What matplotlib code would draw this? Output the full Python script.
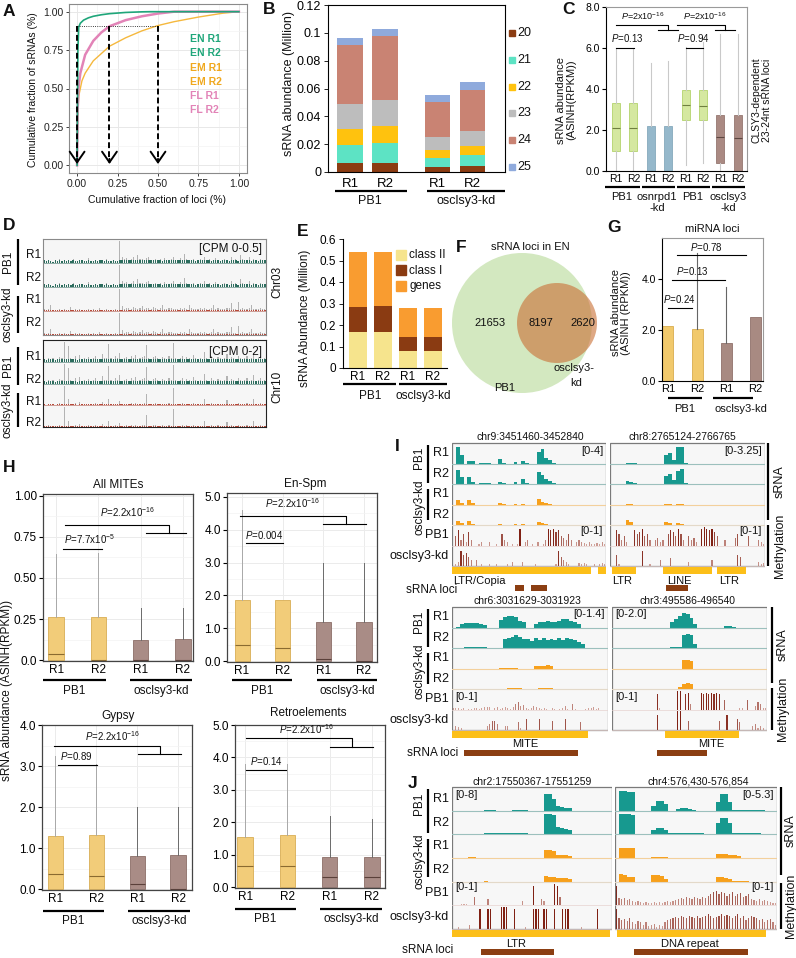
import numpy as np
import matplotlib
matplotlib.use('Agg')
import matplotlib.pyplot as plt
from matplotlib.lines import Line2D
from matplotlib.patches import Rectangle, Circle

plt.rcParams['font.family'] = ['Liberation Sans', 'DejaVu Sans']
plt.rcParams['mathtext.fontset'] = 'custom'
plt.rcParams['mathtext.rm'] = 'Liberation Sans'
plt.rcParams['mathtext.it'] = 'Liberation Sans:italic'
plt.rcParams['axes.linewidth'] = 0.8
plt.rcParams['text.color'] = '#111111'

# ---------------- DATA ----------------
# A: cumulative curves
A_EN_x = [0, 0.002, 0.005, 0.01, 0.02, 0.04, 0.07, 0.1, 0.15, 0.2, 0.3, 0.4, 0.45, 1.0]
A_EN_y = [0, 0.30, 0.75, 0.90, 0.925, 0.945, 0.96, 0.97, 0.98, 0.987, 0.995, 0.999, 1.0, 1.0]
A_EM_x = [0, 0.003, 0.01, 0.03, 0.05, 0.1, 0.2, 0.3, 0.4, 0.5, 0.6, 0.75, 0.9, 1.0]
A_EM_y = [0, 0.30, 0.45, 0.55, 0.60, 0.68, 0.775, 0.83, 0.875, 0.91, 0.935, 0.965, 0.99, 1.0]
A_FL_x = [0, 0.003, 0.01, 0.02, 0.05, 0.1, 0.15, 0.2, 0.3, 0.4, 0.5, 0.6, 1.0]
A_FL_y = [0, 0.35, 0.52, 0.60, 0.72, 0.81, 0.865, 0.905, 0.945, 0.97, 0.988, 1.0, 1.0]
A_arrows = [0.0, 0.2, 0.5]
A_legend = ['EN R1', 'EN R2', 'EM R1', 'EM R2', 'FL R1', 'FL R2']

# B: stacked sRNA sizes (Million)
B_reps = ['R1', 'R2', 'R1', 'R2']
B_sizes = ['20', '21', '22', '23', '24', '25']
B_20 = [0.0065, 0.0068, 0.0035, 0.0040]
B_21 = [0.0130, 0.0137, 0.0065, 0.0080]
B_22 = [0.0115, 0.0125, 0.0060, 0.0070]
B_23 = [0.0180, 0.0185, 0.0095, 0.0105]
B_24 = [0.0420, 0.0460, 0.0245, 0.0295]
B_25 = [0.0050, 0.0055, 0.0055, 0.0060]

# C: boxplots
C_groups = ['PB1', 'osnrpd1\n-kd', 'PB1', 'osclsy3\n-kd']
C_q1 = [1.0, 1.0, 0.0, 0.0, 2.5, 2.48, 0.4, 0.0]
C_med = [2.1, 2.12, 0.0, 0.0, 3.2, 3.18, 1.65, 1.6]
C_q3 = [3.3, 3.3, 2.2, 2.2, 3.95, 3.95, 2.75, 2.75]
C_lo = [0.0, 0.0, 0.0, 0.0, 0.27, 0.37, 0.0, 0.0]
C_hi = [6.0, 6.0, 5.27, 5.35, 6.05, 6.3, 6.7, 6.7]

# D: genome tracks (fraction of track height)
D3_pb1 = [.12,.08,.15,.1,.06,.13,.1,.2,.08,.12, .1,.14,.09,.18,.1,.07,.12,.16,.1,.09,
          .22,.1,.08,.13,.1,.15,.12,.09,.2,.1, .08,.12,.1,.11,1.0,.3,.18,.25,.15,.2,
          .28,.15,.35,.2,.18,.12,.22,.3,.15,.14, .2,.12,.18,.1,.25,.16,.12,.2,.3,.15,
          .12,.22,.15,.4,.18,.14,.12,.2,.1,.15, .18,.12,.3,.15,.2,.1,.12,.25,.15,.1,
          .12,.2,.15,.1,.3,.12,.18,.1,.35,.2, .15,.12,.3,.1,.18,.12,.1,.2,.15,.12]
D3_kd = [.1,.05,.08,.3,.05,.06,.04,.1,.05,.08, .06,.05,.2,.05,.08,.04,.1,.05,.06,.05,
         .08,.05,.1,.06,.05,.12,.05,.06,.08,.05, .06,.05,.08,.05,1.0,.25,.1,.15,.12,.1,
         .2,.15,.1,.12,.25,.1,.15,.12,.1,.2, .15,.1,.12,.3,.1,.08,.15,.12,.1,.08,
         .1,.12,.08,.15,.1,.3,.12,.1,.08,.1, .12,.1,.15,.08,.1,.12,.3,.1,.15,.08,
         .1,.08,.12,.15,.35,.1,.08,.4,.1,.12, .08,.1,.12,.3,.1,.08,.1,.12,.08,.1]
D10_pb1 = [.15,.1,.2,.12,.18,.1,.15,.25,.2,1.0, .15,.8,.2,.12,.3,.1,.35,.15,.2,.12,
           .25,.15,.2,.3,.15,.12,.4,.18,.2,.9, .2,.15,.3,.2,.45,.15,.2,.25,.15,.3,
           .2,.35,.15,.2,.25,.3,.85,.2,.15,.25, .3,.2,.15,.25,.2,.15,.3,.2,.95,.2,
           .15,.2,.3,.15,.25,.2,.15,.35,.2,.15, .2,.15,.5,.2,.15,.3,.2,.15,.25,.2,
           .15,.2,.4,.15,.25,.2,.15,.3,.2,.15, .2,.3,.15,.2,.45,.15,.2,.3,.15,.2]
D10_kd = [.05,.03,.08,.04,.06,.03,.05,.1,.04,1.0, .05,.3,.04,.06,.1,.03,.15,.05,.04,.06,
          .08,.04,.05,.1,.04,.05,.15,.04,.06,.3, .05,.04,.08,.05,.2,.04,.06,.08,.05,.1,
          .05,.12,.04,.06,.08,.1,.6,.05,.04,.08, .1,.05,.04,.08,.06,.04,.1,.05,.9,.05,
          .04,.06,.1,.04,.08,.06,.04,.12,.05,.04, .06,.04,.3,.05,.04,.1,.06,.04,.08,.05,
          .04,.06,.25,.04,.08,.05,.04,.1,.06,.04, .05,.1,.04,.06,.3,.04,.05,.12,.04,.05]

# E: stacked (Million)
E_classII = [0.168, 0.168, 0.078, 0.080]
E_classI = [0.117, 0.119, 0.064, 0.063]
E_genes = [0.255, 0.253, 0.135, 0.135]

# F: Venn counts
F_pb1_only, F_both, F_kd_only = 21653, 8197, 2620

# G: miRNA loci
G_vals = [2.15, 2.02, 1.5, 2.5]
G_hi = [2.15, 5.0, 3.7, 2.5]

# H: boxplots (q1 = 0 everywhere, lower whisker 0)
H1_q3 = [0.26, 0.26, 0.125, 0.13]; H1_med = [0.035, 0.0, 0.0, 0.0]; H1_hi = [0.645, 0.65, 0.315, 0.32]
H2_q3 = [1.85, 1.85, 1.2, 1.2];    H2_med = [0.5, 0.4, 0.05, 0.0];  H2_hi = [4.6, 1.85, 3.0, 3.0]
H3_q3 = [1.3, 1.32, 0.8, 0.82];    H3_med = [0.37, 0.32, 0.12, 0.0]; H3_hi = [3.25, 3.05, 2.0, 2.0]
H4_q3 = [1.55, 1.6, 0.92, 0.92];   H4_med = [0.65, 0.65, 0.3, 0.3]; H4_hi = [3.8, 3.8, 2.2, 2.1]

# I / J: sRNA coverage (fraction of track height)
s9_pb1_r1 = [0,.85,.45,0,.15,.12,0,.03,.02,.03, 0,0,.25,.05,0,0,.06,0,.12,.03, 0,0,.6,.75,.3,.2,.05,0,0,0, 0,0,0,0,0,0,0,0,0,0]
s9_pb1_r2 = [0,.75,.35,0,.35,.1,0,.03,.03,.03, .02,0,.1,.03,0,0,.08,0,.25,.03, 0,0,.65,.5,.25,.15,.05,0,0,0, 0,0,0,0,0,0,0,0,0,0]
s9_kd_r1 = [0,.25,.1,0,.25,.1,0,0,0,0, 0,0,.1,.03,0,0,.05,0,.05,0, 0,0,.3,.15,.08,.03,0,0,0,0, 0,0,0,0,0,0,0,0,0,0]
s9_kd_r2 = [0,.2,.08,0,.2,.05,0,0,0,0, 0,0,.05,0,0,0,.03,0,.03,0, 0,0,.15,.12,.05,.02,0,0,0,0, 0,0,0,0,0,0,0,0,0,0]
s8_pb1_r1 = [0,0,0,0,.05,.05,.02,0,0,0, 0,0,0,0,.45,.55,.2,.85,.9,.05, 0,0,0,0,0,0,0,0,0,0, 0,0,0,0,0,0,0,0,0,0]
s8_pb1_r2 = [0,0,0,0,.15,.1,.03,0,0,0, 0,0,0,0,.4,.55,.2,.7,.8,.05, 0,0,0,0,0,0,0,0,0,0, 0,0,0,0,0,0,0,0,0,0]
s8_kd_r1 = [0,0,0,0,.05,.03,0,0,0,0, 0,0,0,0,.05,.05,0,.05,.03,0, 0,0,0,0,0,0,0,0,0,0, 0,0,0,0,0,0,0,0,0,0]
s8_kd_r2 = [0,0,0,0,.25,.15,0,0,0,0, 0,0,0,0,.15,.1,0,.08,.05,0, 0,0,0,0,0,0,0,0,0,0, 0,0,0,0,0,0,0,0,0,0]
s6_pb1_r1 = [0,.05,.2,.22,.25,.25,.25,.2,.15,0, 0,0,.4,.55,.6,.6,.55,.35,.3,0, 0,.2,.3,.3,.35,.3,.3,.35,.45,.45, .35,.3,.2,0,0,0,0,0,0,0]
s6_pb1_r2 = [0,0,0,.05,.05,.05,.05,.05,.05,0, 0,0,0,.5,.55,.6,.7,.6,.5,.5, .35,.55,.45,.55,.45,.5,.45,.55,.45,.55, .5,.45,.3,.2,0,0,0,0,0,0]
s6_kd_r1 = [0,0,0,0,0,0,0,0,0,0, 0,0,.03,.03,.03,.03,.03,0,0,0, 0,.12,.15,.15,.2,.15,0,0,0,0, 0,0,0,0,0,0,0,0,0,0]
s6_kd_r2 = [0,0,0,0,0,0,0,0,0,0, 0,0,0,0,.04,.04,.04,.04,0,0, 0,0,.04,.04,.04,.04,0,0,0,0, 0,0,0,0,0,0,0,0,0,0]
s3_pb1_r1 = [0,0,0,0,0,0,0,0,0,0, 0,0,0,0,0,.3,.45,.6,.75,.7, .5,.2,0,0,0,0,0,0,0,.1, .1,.05,0,0,0,0,0,0,0,0]
s3_pb1_r2 = [0,0,0,0,0,0,0,0,0,0, 0,0,0,0,0,.05,.05,.05,.7,.75, .7,.2,0,0,0,0,0,0,0,0, 0,0,0,0,0,0,0,0,0,0]
s3_kd_r1 = [0,0,0,0,0,0,0,0,0,0, 0,0,0,0,0,0,0,0,.45,.45, .4,0,0,0,0,0,0,0,0,0, 0,0,0,0,0,0,0,0,0,0]
s3_kd_r2 = [0,0,0,0,0,0,0,0,0,0, 0,0,0,0,0,0,0,.1,.25,.3, .25,0,0,0,0,0,0,0,0,0, 0,0,0,0,0,0,0,0,0,0]
s2_pb1_r1 = [0,0,0,0,0,0,0,0,.03,.03, .03,0,0,0,0,.03,.03,.03,.03,0, 0,0,0,.75,.75,.55,.2,.15,.12,.1, 0,0,0,0,0,0,0,0,0,0]
s2_pb1_r2 = [0,0,0,0,0,0,0,0,.04,.04, .04,.04,.04,.04,.04,.04,.04,.04,.04,0, 0,0,0,.95,.95,.9,.35,.3,.25,.2, 0,0,0,0,0,0,0,0,0,0]
s2_kd_r1 = [0,0,0,0,.05,.05,0,0,0,0, 0,0,0,0,0,0,0,0,0,0, 0,0,0,.35,.35,.3,.15,.15,.15,.1, 0,0,0,0,0,0,0,0,0,0]
s2_kd_r2 = [0,0,0,0,0,0,0,0,.03,0, 0,0,0,0,0,0,0,0,0,0, 0,0,0,.25,.2,.2,.15,.15,.15,.12, 0,0,0,0,0,0,0,0,0,0]
s4_pb1_r1 = [0,.9,.9,.85,.85,0,0,0,0,.2, .45,.45,.3,0,0,.08,.1,.1,.08,.05, 0,0,0,0,0,.4,.75,.75,.4,.05, .05,.05,.05,.05,.05,.05,.03,0,0,0]
s4_pb1_r2 = [0,.95,.95,.95,.9,0,0,0,0,.2, .3,.3,.2,.05,.05,.05,.05,.05,.05,.05, .05,.05,0,0,0,.5,.75,.75,.5,.05, .05,.05,.05,.05,.05,.05,0,0,0,0]
s4_kd_r1 = [0,.45,.45,.45,.45,0,0,0,0,.05, .05,.05,.05,0,0,0,0,0,0,0, 0,0,0,0,0,.2,.2,.2,.15,.15, .1,0,0,0,0,0,0,0,0,0]
s4_kd_r2 = [0,.35,.3,.2,.2,0,0,0,0,.3, .3,.25,.1,0,0,0,0,0,0,0, 0,0,0,0,0,.2,.2,.15,.1,.05, .05,.05,.05,0,0,0,0,0,0,0]

# I / J: methylation levels (0-1)
m9_pb1 = [0,.5,.8,.3,.6,.2,.7,.3,0,0, .1,.2,0,0,.2,0,0,.1,0,.6, .3,.2,0,.1,0,.1,.9,0,.2,.3,
          0,.1,0,.2,0,.1,.3,.9,.8,.9, .7,.8,.5,.4,.3,.6,.3,0,.2,.3, .2,.15,.1,.2,.1,.1,.15,.1,.2,.1]
m9_kd = [0,.1,.2,.8,.6,.7,.5,.3,0,.3, 0,.1,0,0,.1,0,0,.1,0,0, 0,.1,0,.2,0,0,0,.2,0,0,
         0,0,.1,0,0,0,0,0,0,0, .1,.8,.5,.3,.2,.1,0,0,0,.15, .1,.15,.1,0,0,.1,0,.1,.15,.1]
m8_pb1 = [0,0,.8,.6,.3,.5,.2,0,0,.8, .6,.7,.9,.5,.6,.3,0,.3,.4,.2, .3,0,.6,.8,.7,.5,.9,.6,.3,0,
          .5,.3,.4,.2,0,.9,1.0,.9,.8,.9, .7,.5,0,0,.3,0,0,0,.4,.6, 0,0,0,.5,0,0,0,.3,.2,.1]
m8_kd = [0,0,.6,.1,0,0,0,0,0,0, 0,0,.8,0,0,.1,0,0,0,.3, 0,0,0,.4,0,0,0,0,0,0,
         .2,0,0,0,0,0,0,0,0,.3, 0,0,0,0,0,0,0,0,0,.6, .5,0,0,0,0,0,0,.2,.1,.15]
m6_pb1 = [.1,.08,.1,.05,.08,0,.05,.05,.08,.1, .05,.1,.12,.15,.12,0,.1,.15,.05,.1, .12,.1,.05,.15,.3,.4,.2,.25,.1,.05,
          .1,.2,.15,.1,.05,.1,.05,0,.1,.05, 0,.05,.1,.2,.05,0,.3,.05,0,0, 0,.05,.1,.1,.15,.05,.1,0,0,0]
m6_kd = [0,.2,.15,.1,0,0,0,0,0,0, 0,0,0,.2,.3,.5,.5,.3,0,0, .2,.2,0,0,0,.4,.1,0,.6,0,
         0,0,0,.6,0,0,0,0,.5,0, 0,0,0,.6,0,0,0,0,0,.4, 0,0,0,0,0,0,0,0,0,0]
m3_pb1 = [0,0,0,0,0,0,0,0,0,0, 0,0,0,0,0,0,0,.8,.1,0, 0,0,0,0,0,1.0,1.0,0,.8,.9,
          .3,0,0,0,.9,.8,.9,.8,.9,.8, .9,.8,0,.5,0,0,0,0,0,.1, .1,0,.5,0,0,.2,.4,.3,.1,.1]
m3_kd = [0,0,0,0,0,0,0,0,0,0, 0,0,0,0,0,0,0,.8,0,0, 0,0,0,0,0,1.0,1.0,0,0,.5,
         0,0,0,0,0,0,0,0,0,0, 0,.5,0,0,.8,0,0,0,.6,.4, 0,0,0,0,.2,.3,.1,.2,.1,0]
m2_pb1 = [0,0,0,.05,.05,.05,0,0,.4,0, 0,0,0,.3,0,0,0,0,0,0, 0,0,0,0,0,0,.2,0,0,0,
          .9,0,0,.3,.2,0,0,0,1.0,.9, .4,0,0,0,0,0,0,0,0,0, 0,0,0,0,0,0,0,0,0,0]
m2_kd = [0,0,.1,0,0,0,.2,0,0,0, .9,0,0,.9,.9,0,0,0,1.0,1.0, 1.0,0,0,.9,0,0,0,.1,0,0,
         .9,.9,.9,0,.9,.9,0,0,.9,0, 0,.9,.9,.9,0,0,0,0,.1,0, 0,0,0,0,.9,0,0,0,0,0]
m4_pb1 = [.9,.35,.3,.35,.25,.3,.2,.15,.2,.15, .1,.15,.1,.1,.15,.1,.15,.1,.15,.2, .15,.2,.25,.3,.35,.3,.4,.35,.3,.4,
          .35,.3,.4,.35,.45,.5,.6,.65,.5,.6, .55,.45,.5,.6,.45,.5,.55,.4,.45,.5, .3,.25,.2,.3,.2,.25,.2,.15,.1,.1]
m4_kd = [.9,.5,.4,.45,.35,.5,.3,.25,.35,.3, .2,.3,.15,.2,.25,.1,.2,.15,.3,.4, .45,.5,.55,.5,.6,.55,.5,.6,.55,.5,
         .6,.5,.55,.6,.7,.6,.5,.55,.6,.7, .6,.65,.6,.5,.6,.7,.5,.6,.4,.5, .6,.55,.5,.4,.45,.3,.4,.45,.3,.2]

# feature annotations (fraction of region width)
f9_feat = [(0.0, 0.90), (0.95, 1.0)]; f9_loci = [(0.41, 0.47), (0.51, 0.62)]
f8_feat = [(0.01, 0.17), (0.34, 0.66), (0.69, 0.88)]; f8_loci = [(0.36, 0.50)]
f6_feat = [(0.0, 0.87)]; f6_loci = [(0.08, 0.81)]
f3_feat = [(0.34, 0.82)]; f3_loci = [(0.29, 0.61)]
f2_feat = [(0.0, 0.99)]; f2_loci = [(0.18, 0.64)]
f4_feat = [(0.01, 0.93)]; f4_loci = [(0.12, 0.82)]

# ---------------- helpers ----------------
W, H = 796, 958
fig = plt.figure(figsize=(W / 100, H / 100), dpi=100)


def axpx(l, t, r, b):
    return fig.add_axes([l / W, 1 - b / H, (r - l) / W, (b - t) / H])


def txt(x, y, s, size=8, **kw):
    kw.setdefault('ha', 'center')
    kw.setdefault('va', 'center')
    fig.text(x / W, 1 - y / H, s, fontsize=size, **kw)


def seg(x1, y1, x2, y2, lw=1.6, color='k'):
    fig.add_artist(Line2D([x1 / W, x2 / W], [1 - y1 / H, 1 - y2 / H], lw=lw, color=color,
                          transform=fig.transFigure, solid_capstyle='butt'))


def P(s):
    return r'$P$=' + s


def letter(x, y, s):
    txt(x, y, s, size=12.5, fontweight='bold', ha='left')


def bracket(ax, x1, x2, y, text, tx, ty, size=7):
    ax.plot([x1, x2], [y, y], color='k', lw=0.8, clip_on=False)
    ax.text(tx, ty, text, fontsize=size, ha='center', va='center', clip_on=False)


def bracket2(ax, x1, xv, y1, y2, xs1, xs2, text, tx, ty, size=7):
    ax.plot([x1, xv, xv], [y1, y1, y2], color='k', lw=0.8, clip_on=False)
    ax.plot([xs1, xs2], [y2, y2], color='k', lw=0.8, clip_on=False)
    ax.text(tx, ty, text, fontsize=size, ha='center', va='center', clip_on=False)


# ---------------- A ----------------
axA = axpx(69, 4, 247, 173)
axA.set_xlim(-0.05, 1.05)
axA.set_ylim(-0.05, 1.05)
tk = [0, 0.25, 0.5, 0.75, 1.0]
tkl = ['0.00', '0.25', '0.50', '0.75', '1.00']
axA.set_xticks(tk); axA.set_xticklabels(tkl)
axA.set_yticks(tk); axA.set_yticklabels(tkl)
axA.set_xticks([0.125, 0.375, 0.625, 0.875], minor=True)
axA.set_yticks([0.125, 0.375, 0.625, 0.875], minor=True)
axA.grid(which='major', color='#e8e8e8', lw=0.7)
axA.grid(which='minor', color='#f3f3f3', lw=0.5)
axA.set_axisbelow(True)
axA.tick_params(which='minor', length=0)
axA.tick_params(labelsize=7.5, length=2.5, width=0.6, pad=1.5, colors='#222')
for s in axA.spines.values():
    s.set_color('#8a8a8a')
c_EN, c_EM, c_FL = '#1fa67a', '#f5b83d', '#e283b7'
axA.plot(A_EM_x, A_EM_y, color=c_EM, lw=1.0)
axA.plot(A_FL_x, A_FL_y, color=c_FL, lw=1.8)
axA.plot(A_EN_x, A_EN_y, color=c_EN, lw=1.2)
yh = 0.905
axA.plot([0, 0.5], [yh, yh], color='k', lw=0.6, ls=':')
for xa in A_arrows:
    axA.plot([xa, xa], [yh, 0.035], color='k', lw=1.4, ls=(0, (3, 1.6)))
    axA.annotate('', xy=(xa, -0.01), xytext=(xa, 0.06),
                 arrowprops=dict(arrowstyle='->,head_length=0.55,head_width=0.38', lw=1.4,
                                 color='k', mutation_scale=14))
leg_cols = [c_EN, c_EN, '#f0a81e', '#f0a81e', c_FL, c_FL]
for i, (lab, c) in enumerate(zip(A_legend, leg_cols)):
    axA.text(0.70, 0.82 - i * 0.092, lab, color=c, fontsize=7.5, fontweight='bold',
             ha='left', va='center')
txt(157, 200, 'Cumulative fraction of loci (%)', size=7.5)
txt(33, 90, 'Cumulative fraction of sRNAs (%)', size=7.5, rotation=90)
letter(3, 12, 'A')

# ---------------- B ----------------
axB = axpx(328, 5, 505, 172)
xB = [0, 1, 2.5, 3.5]
colsB = ['#8b3c12', '#5de3c4', '#ffc20e', '#bdbdbd', '#c98373', '#8faadc']
bot = np.zeros(4)
for vals, c in zip([B_20, B_21, B_22, B_23, B_24, B_25], colsB):
    axB.bar(xB, vals, 0.72, bottom=bot, color=c, lw=0)
    bot += np.array(vals)
axB.set_xlim(-0.63, 4.43)
axB.set_ylim(0, 0.12)
axB.set_yticks(np.arange(0, 0.121, 0.02))
axB.set_yticklabels(['0', '0.02', '0.04', '0.06', '0.08', '0.1', '0.12'])
axB.set_xticks(xB); axB.set_xticklabels(B_reps)
axB.tick_params(axis='y', labelsize=9, length=3, width=0.6, pad=2)
axB.tick_params(axis='x', labelsize=9.5, length=0, pad=4)
for i, (lab, c) in enumerate(zip(B_sizes, colsB)):
    yy = 33 + i * 26.8
    fig.add_artist(Rectangle((509 / W, 1 - (yy + 3) / H), 6 / W, 6 / H, color=c, transform=fig.transFigure))
    txt(517, yy, lab, size=9, ha='left')
seg(335, 191, 407, 191)
seg(427, 191, 505, 191)
txt(370, 201, 'PB1', size=9)
txt(466, 201, 'osclsy3-kd', size=9)
txt(289, 84, 'sRNA abundance (Million)', size=9, rotation=90)
letter(263, 9, 'B')

# ---------------- C ----------------
axC = axpx(606, 7, 747, 171)
posC = np.arange(1, 9)
statsC = [dict(med=m, q1=a, q3=b, whislo=lo, whishi=hi, fliers=[])
          for a, m, b, lo, hi in zip(C_q1, C_med, C_q3, C_lo, C_hi)]
bp = axC.bxp(statsC, positions=posC, widths=0.46, patch_artist=True, showfliers=False,
             showcaps=False, whiskerprops=dict(color='#c9c9c9', lw=0.8),
             boxprops=dict(lw=0.6), medianprops=dict(lw=0.8))
fcC = ['#d5e8a0', '#d5e8a0', '#95b8cb', '#95b8cb', '#d5e8a0', '#d5e8a0', '#aa8a83', '#aa8a83']
ecC = ['#b4d36c', '#b4d36c', '#86a9bc', '#86a9bc', '#b4d36c', '#b4d36c', '#957770', '#957770']
mcC = ['#6f7f40', '#6f7f40', '#7396a8', '#7396a8', '#6f7f40', '#6f7f40', '#5d4640', '#5d4640']
for patch, fc, ec in zip(bp['boxes'], fcC, ecC):
    patch.set_facecolor(fc); patch.set_edgecolor(ec)
for med, mc in zip(bp['medians'], mcC):
    med.set_color(mc)
axC.set_xlim(0.43, 8.53)
axC.set_ylim(0, 8)
axC.set_yticks([0, 2, 4, 6, 8]); axC.set_yticklabels(['0.0', '2.0', '4.0', '6.0', '8.0'])
axC.set_xticks(posC); axC.set_xticklabels(['R1', 'R2'] * 4)
axC.tick_params(axis='y', labelsize=7.5, length=3, width=0.8, pad=1.5)
axC.tick_params(axis='x', labelsize=7.5, length=0, pad=2)
for k in ['top', 'right']:
    axC.spines[k].set_color('#9a9a9a')
bracket(axC, 1, 2.03, 6.0, P('0.13'), 1.63, 6.5)
bracket(axC, 5, 6, 6.0, P('0.94'), 5.43, 6.5)
bracket2(axC, 1, 3.99, 7.12, 6.88, 3.41, 4.56, P('2x10$^{-16}$'), 2.55, 7.55, size=6.5)
bracket2(axC, 4.5, 7.26, 7.12, 6.88, 6.69, 7.84, P('2x10$^{-16}$'), 6.1, 7.55, size=6.5)
for (a, b), (cx, lab) in zip([(605, 640), (642, 675), (677, 710), (712, 745)],
                             [(622, 'PB1'), (657, 'osnrpd1'), (693, 'PB1'), (728, 'osclsy3')]):
    seg(a, 187, b, 187)
    txt(cx, 197, lab, size=8)
txt(657, 208, '-kd', size=8)
txt(728, 208, '-kd', size=8)
txt(566, 100, 'sRNA abundance\n(ASINH(RPKM))', size=8, rotation=90, linespacing=1.1)
txt(762, 100, 'CLSY3-dependent\n23-24nt sRNA loci', size=7.5, rotation=90, linespacing=1.1)
letter(562, 10, 'C')


# ---------------- D ----------------
def dbox(t, b, tracks, cols, caps, edge):
    ax = axpx(43, t, 266, b)
    n = len(tracks[0])
    ax.set_xlim(0, n)
    ax.set_ylim(4, 0)
    for k, (vals, c, cap) in enumerate(zip(tracks, cols, caps)):
        ax.axhspan(k, k + 1, color='#f6f6f6', lw=0)
        v = np.asarray(vals)
        x = np.arange(n) + 0.5
        ax.bar(x, -v * 0.9, bottom=k + 1, width=0.5, color='#b3b3b3', lw=0)
        ax.bar(x, -np.minimum(v, cap) * 0.9, bottom=k + 1, width=0.6, color=c, lw=0)
        ax.axhline(k + 1, color=c, lw=0.7)
        if k < 3:
            ax.axhline(k + 1.0, color='#e0e0e0', lw=0.4)
    ax.set_xticks([]); ax.set_yticks([])
    for s in ax.spines.values():
        s.set_color(edge)
    return ax


tealD, redD = '#2c6d5e', '#b84a3a'
dbox(239, 335, [D3_pb1, D3_pb1, D3_kd, D3_kd], [tealD, tealD, redD, redD], [0.12, 0.12, 0.06, 0.06], '#8a8a8a')
dbox(340, 427, [D10_pb1, D10_pb1, D10_kd, D10_kd], [tealD, tealD, redD, redD], [0.15, 0.15, 0.06, 0.06], '#222')
txt(262, 249, '[CPM 0-0.5]', size=8.5, ha='right')
txt(262, 352, '[CPM 0-2]', size=8.5, ha='right')
for yy, lab in zip([255, 278, 300, 323, 357, 380, 402, 423], ['R1', 'R2'] * 4):
    txt(41, yy, lab, size=8.5, ha='right')
for (a, b), lab in zip([(239, 285), (296, 333), (347, 385), (393, 427)],
                       ['PB1', 'osclsy3-kd', 'PB1', 'osclsy3-kd']):
    seg(18, a, 18, b)
    txt(8, (a + b) / 2, lab, size=8.5, rotation=90)
txt(277, 282, 'Chr03', size=8.5, rotation=90)
txt(277, 387, 'Chr10', size=8.5, rotation=90)
letter(3, 225, 'D')

# ---------------- E ----------------
axE = axpx(343, 239, 447, 368)
xE = [0, 1, 2, 3]
colsE = ['#f6e48d', '#8a3b12', '#f99c30']
bot = np.zeros(4)
for vals, c in zip([E_classII, E_classI, E_genes], colsE):
    axE.bar(xE, vals, 0.72, bottom=bot, color=c, lw=0)
    bot += np.array(vals)
axE.set_xlim(-0.6, 3.56)
axE.set_ylim(0, 0.6)
axE.set_yticks(np.arange(0, 0.61, 0.1))
axE.set_yticklabels(['0', '0.1', '0.2', '0.3', '0.4', '0.5', '0.6'])
axE.set_xticks(xE); axE.set_xticklabels(['R1', 'R2', 'R1', 'R2'])
axE.tick_params(axis='y', labelsize=8.5, length=3, width=0.6, pad=2)
axE.tick_params(axis='x', labelsize=8.5, length=0, pad=2)
axE.spines['top'].set_visible(False); axE.spines['right'].set_visible(False)
for i, (lab, c) in enumerate(zip(['class II', 'class I', 'genes'], colsE)):
    yy = 255 + i * 15.5
    fig.add_artist(Rectangle((396 / W, 1 - (yy + 5) / H), 10 / W, 10 / H, color=c, transform=fig.transFigure))
    txt(409, yy, lab, size=8.5, ha='left')
seg(343, 384, 396, 384)
seg(399, 384, 447, 384)
txt(370, 396, 'PB1', size=8.5)
txt(423, 396, 'osclsy3-kd', size=8.5)
txt(305, 318, 'sRNA Abundance (Million)', size=8.5, rotation=90)
letter(297, 231, 'E')

# ---------------- F ----------------
axF = axpx(445, 240, 615, 400)
axF.set_xlim(445, 615); axF.set_ylim(400, 240)
axF.axis('off')
axF.add_patch(Circle((522, 323), 70, color='#d3e8c0', lw=0))
axF.add_patch(Circle((557, 323), 40, color='#c96e33', alpha=0.6, lw=0))
axF.text(490, 323, str(F_pb1_only), fontsize=8, ha='center', va='center')
axF.text(541, 323, str(F_both), fontsize=8, ha='center', va='center')
axF.text(583, 323, str(F_kd_only), fontsize=8, ha='center', va='center')
txt(530, 247, 'sRNA loci in EN', size=8)
txt(505, 388, 'PB1', size=8)
txt(574, 368, 'osclsy3-', size=8)
txt(576, 383, 'kd', size=8)
letter(456, 248, 'F')

# ---------------- G ----------------
axG = axpx(662, 238, 763, 381)
xG = [0, 1, 2, 3]
colG = ['#f1c96c', '#f1c96c', '#a88a82', '#a88a82']
ecG = ['#d9ad4f', '#d9ad4f', '#8f716a', '#8f716a']
axG.bar(xG, G_vals, 0.38, color=colG, edgecolor=ecG, lw=0.6)
for x, v, hi in zip(xG, G_vals, G_hi):
    if hi > v:
        axG.plot([x, x], [v, hi], color='#666', lw=0.8)
axG.set_xlim(-0.2, 3.25)
axG.set_ylim(0, 5.6)
axG.set_yticks([0, 2, 4]); axG.set_yticklabels(['0.0', '2.0', '4.0'])
axG.set_xticks(xG); axG.set_xticklabels(['R1', 'R2', 'R1', 'R2'])
axG.tick_params(axis='y', labelsize=7.5, length=3, width=0.8, pad=1.5)
axG.tick_params(axis='x', labelsize=8, length=0, pad=2)
for k in ['top', 'right']:
    axG.spines[k].set_color('#9a9a9a')
bracket(axG, 0.0, 0.82, 2.85, P('0.24'), 0.41, 3.2)
bracket(axG, 0.14, 1.95, 3.95, P('0.13'), 0.85, 4.32)
bracket(axG, 0.31, 2.66, 4.95, P('0.78'), 1.3, 5.25)
txt(712, 229, 'miRNA loci', size=8)
seg(668, 398, 702, 398)
seg(713, 398, 753, 398)
txt(685, 409, 'PB1', size=8)
txt(741, 409, 'osclsy3-kd', size=8)
txt(621, 313, 'sRNA abundance\n(ASINH (RPKM))', size=8, rotation=90, linespacing=1.1)
letter(607, 228, 'G')


# ---------------- H ----------------
def hpanel(l, t, r, b, xlim, ylim, yticks, ytl, q3, med, hi, title, tx, ty):
    ax = axpx(l, t, r, b)
    stats = [dict(med=m, q1=0.0, q3=q, whislo=0.0, whishi=h, fliers=[]) for q, m, h in zip(q3, med, hi)]
    bp = ax.bxp(stats, positions=[0, 1, 2, 3], widths=0.37, patch_artist=True, showfliers=False,
                showcaps=False, boxprops=dict(lw=0.6), medianprops=dict(lw=0.8), whiskerprops=dict(lw=0.7))
    fc = ['#f2cc79', '#f2cc79', '#a98c86', '#a98c86']
    ec = ['#d8ae55', '#d8ae55', '#8c6e68', '#8c6e68']
    mc = ['#8a6a30', '#8a6a30', '#5a403a', '#5a403a']
    wc = ['#a8a8a8', '#a8a8a8', '#6a6a6a', '#6a6a6a']
    for patch, f, e in zip(bp['boxes'], fc, ec):
        patch.set_facecolor(f); patch.set_edgecolor(e)
    for md, c in zip(bp['medians'], mc):
        md.set_color(c)
    for i, w in enumerate(bp['whiskers']):
        w.set_color(wc[i // 2])
    ax.set_xlim(*xlim); ax.set_ylim(*ylim)
    ax.set_yticks(yticks); ax.set_yticklabels(ytl)
    ax.set_xticks([0, 1, 2, 3]); ax.set_xticklabels(['R1', 'R2', 'R1', 'R2'])
    ax.set_yticks([(yticks[i] + yticks[i + 1]) / 2 for i in range(len(yticks) - 1)], minor=True)
    ax.grid(which='major', color='#ebebeb', lw=0.7)
    ax.grid(which='minor', axis='y', color='#f3f3f3', lw=0.5)
    ax.set_axisbelow(True)
    ax.tick_params(which='minor', length=0)
    ax.tick_params(axis='y', labelsize=8.5, length=3, width=0.8, pad=1.5)
    ax.tick_params(axis='x', labelsize=8.5, length=0, pad=2)
    for s in ax.spines.values():
        s.set_color('#444'); s.set_linewidth(0.9)
    txt(tx, ty, title, size=8.5)
    return ax


h1 = hpanel(43, 494, 193, 661, (-0.31, 3.24), (-0.006, 1.012), [0, 0.25, 0.5, 0.75, 1.0],
            ['0.0', '0.25', '0.50', '0.75', '1.00'], H1_q3, H1_med, H1_hi, 'All MITEs', 118, 485)
bracket(h1, 0.17, 1.09, 0.677, P('7.7x10$^{-5}$'), 0.78, 0.735)
bracket2(h1, 0.21, 2.67, 0.82, 0.775, 2.13, 3.07, P('2.2x10$^{-16}$'), 1.68, 0.9)
h2 = hpanel(227, 493, 377, 662, (-0.37, 3.32), (-0.03, 5.12), [0, 1, 2, 3, 4, 5],
            ['0.0', '1.0', '2.0', '3.0', '4.0', '5.0'], H2_q3, H2_med, H2_hi, 'En-Spm', 305, 484)
bracket(h2, 0.1, 1.0, 3.6, P('0.004'), 0.55, 3.85)
bracket2(h2, -0.05, 2.55, 4.42, 4.18, 2.0, 3.05, P('2.2x10$^{-16}$'), 1.25, 4.8)
h3 = hpanel(42, 725, 192, 890, (-0.32, 3.34), (-0.024, 4.0), [0, 1, 2, 3, 4],
            ['0.0', '1.0', '2.0', '3.0', '4.0'], H3_q3, H3_med, H3_hi, 'Gypsy', 118, 716)
bracket(h3, 0.07, 1.02, 3.02, P('0.89'), 0.51, 3.24)
bracket2(h3, -0.02, 2.56, 3.49, 3.29, 2.02, 3.07, P('2.2x10$^{-16}$'), 1.39, 3.72)
h4 = hpanel(235, 725, 385, 888, (-0.24, 3.31), (-0.03, 5.0), [0, 1, 2, 3, 4, 5],
            ['0.0', '1.0', '2.0', '3.0', '4.0', '5.0'], H4_q3, H4_med, H4_hi, 'Retroelements', 308, 713)
bracket(h4, 0.02, 0.97, 3.6, P('0.14'), 0.5, 3.9)
bracket2(h4, 0.02, 2.53, 4.6, 4.32, 2.0, 3.03, P('2.2x10$^{-16}$'), 1.44, 4.88)
for (a, b, c, d, yl, yt) in [(43, 106, 130, 192, 680, 691), (232, 292, 317, 377, 680, 691),
                              (43, 104, 128, 190, 911, 921), (235, 296, 320, 382, 909, 919)]:
    seg(a, yl, b, yl)
    seg(c, yl, d, yl)
    txt((a + b) / 2, yt, 'PB1', size=8.5)
    txt((c + d) / 2, yt, 'osclsy3-kd', size=8.5)
txt(7, 690, 'sRNA abundance (ASINH(RPKM))', size=8.5, rotation=90)
letter(3, 468, 'H')

# ---------------- I / J ----------------
TEAL, ORANGE, YEL, LOCI = '#17998f', '#f7a01b', '#fcbf19', '#8b3e12'


def mcolor(v):
    lo = np.array([0.86, 0.70, 0.67]); hi_ = np.array([0.50, 0.13, 0.08])
    f = min(1.0, v / 0.9)
    return tuple(lo + (hi_ - lo) * f)


def region(l, r, t, bot, srna, meth, feats, loci, flabels, fy, ly, lociy):
    ax = axpx(l, t - 1, r, lociy + 5)
    ax.set_xlim(0, 1)
    ax.set_ylim(lociy + 5, t - 1)
    ax.axis('off')
    th = (bot - t) / 6.0
    for k in range(6):
        ax.add_patch(Rectangle((0, t + k * th), 1, th, facecolor='#f7f7f7', edgecolor='none'))
    for k, vals in enumerate(srna):
        base = t + (k + 1) * th
        v = np.asarray(vals, dtype=float)
        n = len(v)
        xs = np.arange(n + 1) / n
        ys = np.append(v, v[-1])
        col = TEAL if k < 2 else ORANGE
        lcol = '#9cc0bd' if k < 2 else '#f3d09c'
        ax.fill_between(xs, base, base - ys * th * 0.92, step='post', color=col, lw=0)
        ax.plot([0, 1], [base, base], color=lcol, lw=0.8)
    for k, vals in enumerate(meth):
        base = t + (k + 5) * th
        v = np.asarray(vals, dtype=float)
        n = len(v)
        xc = (np.arange(n) + 0.5) / n
        ax.bar(xc, -v * th * 0.92, bottom=base, width=0.45 / n, color=[mcolor(x) for x in v], lw=0)
        ax.plot([0, 1], [base, base], color='#e6d2cf', lw=0.5)
    ax.plot([0, 1], [t + 4 * th, t + 4 * th], color='#dddddd', lw=0.5)
    ax.add_patch(Rectangle((0, t), 1, bot - t, fill=False, edgecolor='#7a7a7a', lw=0.9))
    for a, b in feats:
        ax.add_patch(Rectangle((a, fy - 3.5), b - a, 7, color=YEL, lw=0, clip_on=False))
    for a, b in loci:
        ax.add_patch(Rectangle((a, lociy - 3), b - a, 6, color=LOCI, lw=0, clip_on=False))
    for x, s in flabels:
        ax.text(x, ly, s, fontsize=8, ha='center', va='center')
    return ax


def left_labels(t, bot, lociy, loci_x):
    th = (bot - t) / 6.0
    for k, lab in enumerate(['R1', 'R2', 'R1', 'R2']):
        txt(449, t + (k + 0.5) * th, lab, size=9, ha='right')
    txt(449, t + 4.5 * th, 'PB1', size=9, ha='right')
    txt(449, t + 5.5 * th, 'osclsy3-kd', size=9, ha='right')
    seg(428, t + 2, 428, t + 2 * th - 1)
    seg(428, t + 2 * th + 5, 428, t + 4 * th - 5)
    txt(419, t + 0.7 * th, 'PB1', size=8.5, rotation=90)
    txt(419, t + 3 * th + 3, 'osclsy3-kd', size=8.5, rotation=90)
    txt(loci_x, lociy, 'sRNA loci', size=8.5)


def right_labels(x_line, x_txt, s1, s2, m1, m2):
    seg(x_line, s1, x_line, s2)
    seg(x_line, m1, x_line, m2)
    txt(x_txt, (s1 + s2) / 2, 'sRNA', size=9, rotation=90)
    txt(x_txt, (m1 + m2) / 2, 'Methylation', size=9, rotation=90)


# I top block
region(452, 606, 443, 566, [s9_pb1_r1, s9_pb1_r2, s9_kd_r1, s9_kd_r2], [m9_pb1, m9_kd],
       f9_feat, f9_loci, [(0.18, 'LTR/Copia')], 570.5, 581, 588)
region(610, 765, 443, 566, [s8_pb1_r1, s8_pb1_r2, s8_kd_r1, s8_kd_r2], [m8_pb1, m8_kd],
       f8_feat, f8_loci, [(0.08, 'LTR'), (0.45, 'LINE'), (0.77, 'LTR')], 570.5, 581, 588)
left_labels(443, 566, 590, 432)
txt(530, 437, 'chr9:3451460-3452840', size=7.5)
txt(682, 437, 'chr8:2765124-2766765', size=7.5)
txt(603, 451, '[0-4]', size=8, ha='right')
txt(762, 451, '[0-3.25]', size=8, ha='right')
txt(603, 531, '[0-1]', size=8, ha='right')
txt(762, 531, '[0-1]', size=8, ha='right')
right_labels(768, 780, 443, 520, 525, 566)
letter(395, 446, 'I')

# I bottom block
region(452, 608, 607, 730, [s6_pb1_r1, s6_pb1_r2, s6_kd_r1, s6_kd_r2], [m6_pb1, m6_kd],
       f6_feat, f6_loci, [(0.47, 'MITE')], 734.5, 744, 753)
region(612, 767, 607, 730, [s3_pb1_r1, s3_pb1_r2, s3_kd_r1, s3_kd_r2], [m3_pb1, m3_kd],
       f3_feat, f3_loci, [(0.64, 'MITE')], 734.5, 744, 753)
left_labels(607, 730, 753, 433)
txt(527, 601, 'chr6:3031629-3031923', size=7.5)
txt(688, 601, 'chr3:495586-496540', size=7.5)
txt(605, 614, '[0-1.4]', size=8, ha='right')
txt(615, 614, '[0-2.0]', size=8, ha='left')
txt(455, 697, '[0-1]', size=8, ha='left')
txt(615, 697, '[0-1]', size=8, ha='left')
right_labels(772, 783, 607, 683, 688, 730)

# J block
region(452, 612, 787, 929, [s2_pb1_r1, s2_pb1_r2, s2_kd_r1, s2_kd_r2], [m2_pb1, m2_kd],
       f2_feat, f2_loci, [(0.40, 'LTR')], 934, 944, 952)
region(615, 777, 787, 929, [s4_pb1_r1, s4_pb1_r2, s4_kd_r1, s4_kd_r2], [m4_pb1, m4_kd],
       f4_feat, f4_loci, [(0.46, 'DNA repeat')], 934, 944, 952)
left_labels(787, 929, 950, 428)
txt(532, 782, 'chr2:17550367-17551259', size=7.5)
txt(698, 782, 'chr4:576,430-576,854', size=7.5)
txt(455, 795, '[0-8]', size=8, ha='left')
txt(774, 795, '[0-5.3]', size=8, ha='right')
txt(455, 887, '[0-1]', size=8, ha='left')
txt(774, 887, '[0-1]', size=8, ha='right')
right_labels(781, 791, 787, 875, 883, 929)
letter(408, 783, 'J')

fig.savefig('out.png', dpi=100)
